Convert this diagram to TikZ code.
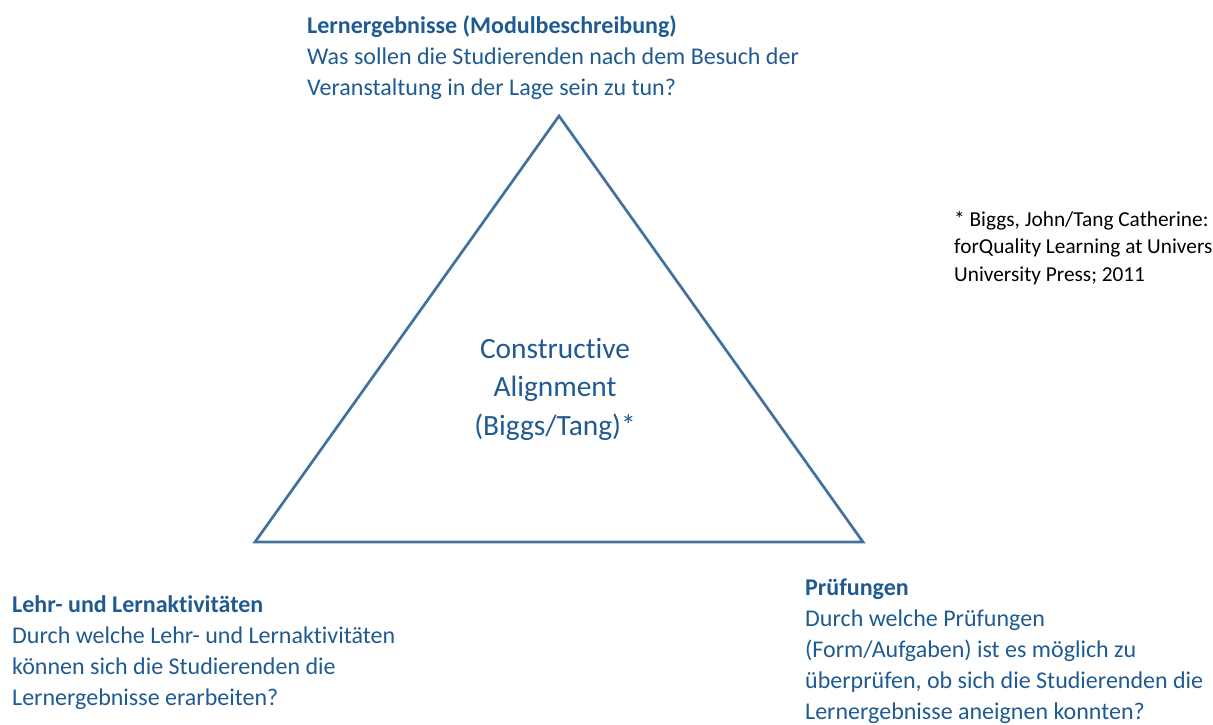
\documentclass[tikz,border=0pt]{standalone}
\usepackage{fontspec}
\setmainfont{Carlito}[Ligatures=CommonOff]
\usetikzlibrary{positioning}
\definecolor{txtblue}{RGB}{31,90,145}
\definecolor{lineblue}{RGB}{65,113,156}

\begin{document}
\begin{tikzpicture}[x=1pt, y=-1pt,
    txt/.style = {inner sep=0pt, anchor=base west, align=left, text=txtblue, font=\fontsize{24}{31}\selectfont},
    mid/.style = {inner sep=0pt, anchor=base, align=center, text=txtblue, font=\fontsize{29.4}{38.5}\selectfont},
    note/.style = {inner sep=0pt, anchor=base west, align=left, font=\fontsize{21.3}{27.5}\selectfont}]
      \useasboundingbox (0,0) rectangle (1213,724);
      % corners of the triangle
      \coordinate (top) at (559, 116);
      \coordinate (left) at (255, 542);
      \coordinate (right) at (863, 542);
      \draw [lineblue, line width=2.7pt, line join=miter] (top) -- (left) -- (right) -- cycle;

      % nodes are placed by the baseline of their last line
      \node [mid] (ca) at (555, 435) {Constructive\\Alignment\\(Biggs/Tang)*};

      \node [txt] (lz) at (307, 95) {\textbf{Lernergebnisse (Modulbeschreibung)}\\Was sollen die Studierenden nach dem Besuch der\\Veranstaltung in der Lage sein zu tun?};
      \node [txt] (la) at (12, 705) {\textbf{Lehr- und Lernaktivitäten}\\Durch welche Lehr- und Lernaktivitäten\\können sich die Studierenden die\\Lernergebnisse erarbeiten?};
      \node [txt] (pr) at (805, 719) {\textbf{Prüfungen}\\Durch welche Prüfungen\\(Form/Aufgaben) ist es möglich zu\\überprüfen, ob sich die Studierenden die\\Lernergebnisse aneignen konnten?};

      \node [note] (fn) at (954, 281) {* Biggs, John/Tang Catherine:\\forQuality Learning at Univers\\University Press; 2011};
\end{tikzpicture}
\end{document}
